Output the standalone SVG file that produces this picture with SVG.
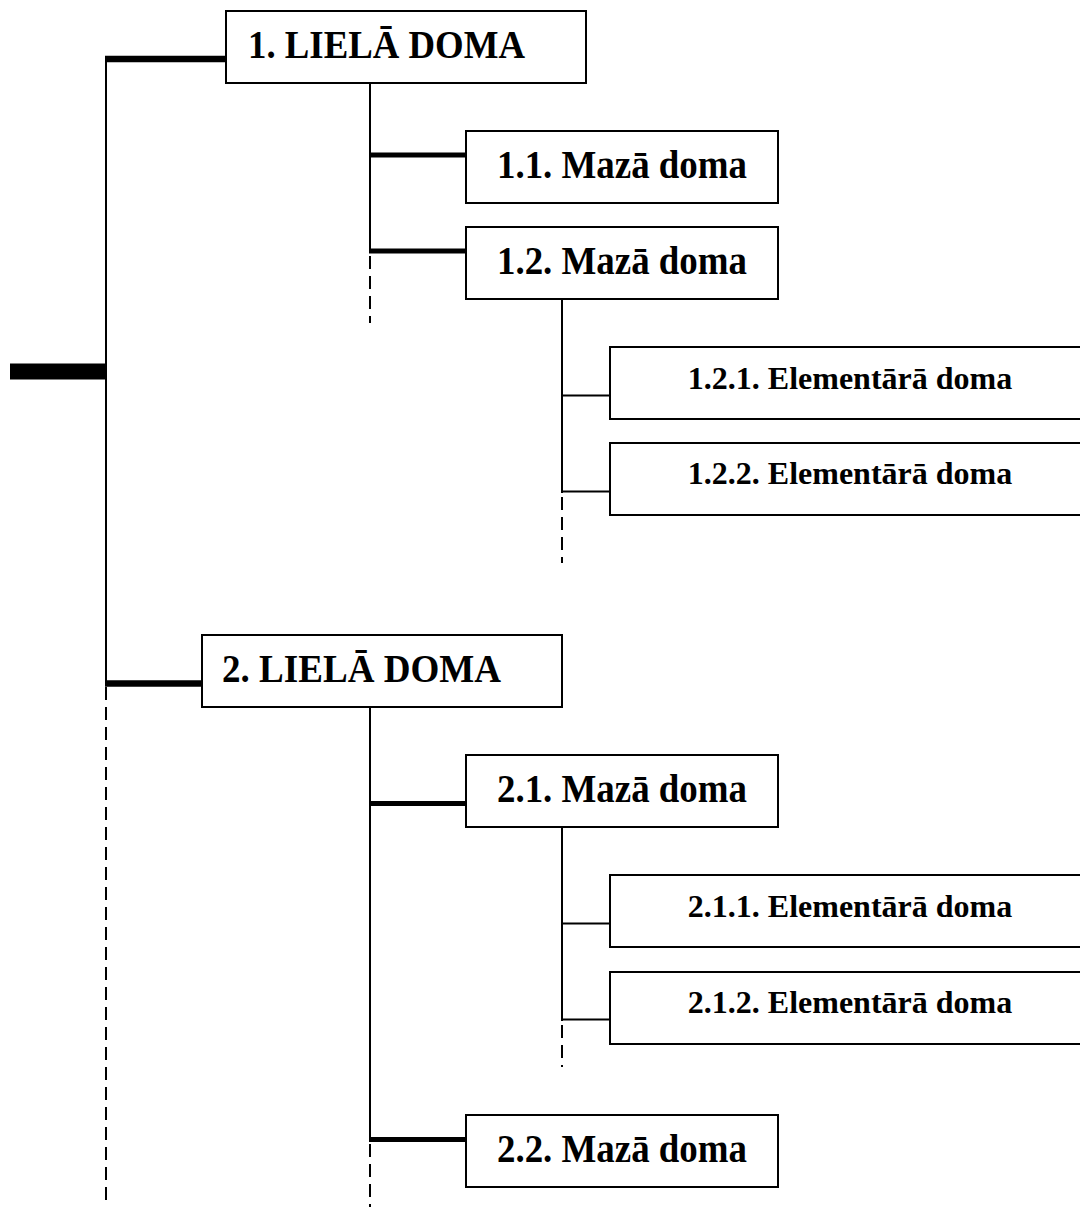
<svg xmlns="http://www.w3.org/2000/svg" width="1080" height="1207" viewBox="0 0 1080 1207">
<style>
.box{fill:#fff;stroke:#000;stroke-width:2}
.big{font-family:"Liberation Serif","Times New Roman",serif;font-weight:bold;font-size:39px;fill:#000}
.small{font-family:"Liberation Serif","Times New Roman",serif;font-weight:bold;font-size:32px;fill:#000}
.mid{text-anchor:middle}
.thin{stroke:#000;stroke-width:2;fill:none}
.dash{stroke:#000;stroke-width:2;fill:none;stroke-dasharray:13,7}
.t1{stroke:#000;stroke-width:6.5;fill:none}
.t2{stroke:#000;stroke-width:5;fill:none}
.root{stroke:#000;stroke-width:16;fill:none}
</style>
<rect width="1080" height="1207" fill="#fff"/>
<g id="connectors">
  <line class="root" x1="10" y1="371.5" x2="106" y2="371.5"/>
  <line class="thin" x1="106" y1="56" x2="106" y2="685"/>
  <line class="dash" x1="106" y1="687" x2="106" y2="1207"/>
  <line class="t1" x1="105" y1="59" x2="226" y2="59"/>
  <line class="t1" x1="105" y1="683.5" x2="202" y2="683.5"/>
  <line class="thin" x1="370" y1="83" x2="370" y2="253"/>
  <line class="dash" x1="370" y1="256" x2="370" y2="323"/>
  <line class="t2" x1="369" y1="155" x2="466" y2="155"/>
  <line class="t2" x1="369" y1="251" x2="466" y2="251"/>
  <line class="thin" x1="562" y1="299" x2="562" y2="493"/>
  <line class="dash" x1="562" y1="497" x2="562" y2="563"/>
  <line class="thin" x1="561" y1="395.5" x2="610" y2="395.5"/>
  <line class="thin" x1="561" y1="491.5" x2="610" y2="491.5"/>
  <line class="thin" x1="370" y1="707" x2="370" y2="1141"/>
  <line class="dash" x1="370" y1="1144" x2="370" y2="1207"/>
  <line class="t2" x1="369" y1="803.5" x2="466" y2="803.5"/>
  <line class="t2" x1="369" y1="1139.5" x2="466" y2="1139.5"/>
  <line class="thin" x1="562" y1="827" x2="562" y2="1021"/>
  <line class="dash" x1="562" y1="1025" x2="562" y2="1067"/>
  <line class="thin" x1="561" y1="923.5" x2="610" y2="923.5"/>
  <line class="thin" x1="561" y1="1019.5" x2="610" y2="1019.5"/>
</g>
<g id="n1">
  <rect class="box" x="226" y="11" width="360" height="72"/>
  <text class="big" x="248" y="58" textLength="277" lengthAdjust="spacingAndGlyphs">1. LIELĀ DOMA</text>
</g>
<g id="n1-1">
  <rect class="box" x="466" y="131" width="312" height="72"/>
  <text class="big" x="497" y="178" textLength="250" lengthAdjust="spacingAndGlyphs">1.1. Mazā doma</text>
</g>
<g id="n1-2">
  <rect class="box" x="466" y="227" width="312" height="72"/>
  <text class="big" x="497" y="274" textLength="250" lengthAdjust="spacingAndGlyphs">1.2. Mazā doma</text>
</g>
<g id="n1-2-1">
  <rect class="box" x="610" y="347" width="480" height="72"/>
  <text class="small mid" x="850" y="389">1.2.1. Elementārā doma</text>
</g>
<g id="n1-2-2">
  <rect class="box" x="610" y="443" width="480" height="72"/>
  <text class="small mid" x="850" y="484">1.2.2. Elementārā doma</text>
</g>
<g id="n2">
  <rect class="box" x="202" y="635" width="360" height="72"/>
  <text class="big" x="222" y="682" textLength="279" lengthAdjust="spacingAndGlyphs">2. LIELĀ DOMA</text>
</g>
<g id="n2-1">
  <rect class="box" x="466" y="755" width="312" height="72"/>
  <text class="big" x="497" y="802" textLength="250" lengthAdjust="spacingAndGlyphs">2.1. Mazā doma</text>
</g>
<g id="n2-1-1">
  <rect class="box" x="610" y="875" width="480" height="72"/>
  <text class="small mid" x="850" y="917">2.1.1. Elementārā doma</text>
</g>
<g id="n2-1-2">
  <rect class="box" x="610" y="972" width="480" height="72"/>
  <text class="small mid" x="850" y="1013">2.1.2. Elementārā doma</text>
</g>
<g id="n2-2">
  <rect class="box" x="466" y="1115" width="312" height="72"/>
  <text class="big" x="497" y="1162" textLength="250" lengthAdjust="spacingAndGlyphs">2.2. Mazā doma</text>
</g>
</svg>
